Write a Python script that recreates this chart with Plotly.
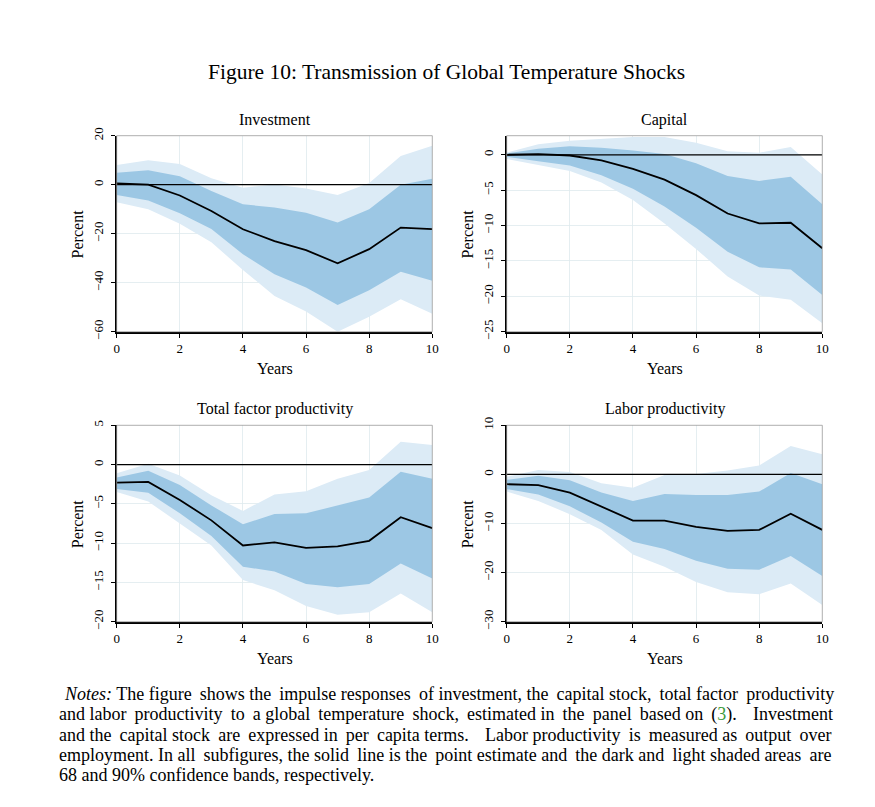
import plotly.graph_objects as go

# impulse horizon
years = [0, 1, 2, 3, 4, 5, 6, 7, 8, 9, 10]

# Investment
inv_point = [0.5, 0, -4.4, -10.7, -18.2, -23.0, -26.7, -32.1, -26.3, -17.5, -18.1]
inv_hi68 = [4.9, 5.9, 3.4, -2.6, -8.0, -9.3, -11.4, -15.4, -10.0, 0.0, 2.4]
inv_lo68 = [-4.2, -6.4, -11.7, -18.1, -28.4, -36.6, -42.0, -49.1, -43.1, -35.5, -39.2]
inv_hi90 = [8.0, 10.0, 8.4, 2.6, -1.2, 0.1, -1.5, -4.2, 0.7, 11.7, 15.9]
inv_lo90 = [-7.2, -10.0, -15.9, -23.5, -34.8, -45.4, -51.8, -60.0, -53.9, -46.8, -52.7]

# Capital
cap_point = [0, 0.1, -0.1, -0.8, -2.0, -3.5, -5.7, -8.3, -9.7, -9.6, -13.2]
cap_hi68 = [0.2, 0.85, 1.2, 1.0, 0.6, 0.1, -1.2, -3.0, -3.7, -3.1, -7.0]
cap_lo68 = [-0.3, -0.9, -1.5, -2.9, -4.8, -7.3, -10.3, -13.7, -15.9, -16.2, -19.8]
cap_hi90 = [0.3, 1.5, 2.0, 2.3, 2.5, 2.5, 1.7, 0.5, 0.3, 1.1, -2.8]
cap_lo90 = [-0.6, -1.4, -2.3, -3.9, -6.4, -9.7, -13.3, -17.2, -19.9, -20.5, -23.8]

# Total factor productivity
tfp_point = [-2.3, -2.2, -4.5, -7.1, -10.3, -9.9, -10.6, -10.4, -9.7, -6.7, -8.1]
tfp_hi68 = [-1.65, -0.8, -2.6, -5.2, -7.6, -6.3, -6.2, -5.2, -4.2, -0.9, -1.8]
tfp_lo68 = [-3.1, -3.6, -6.2, -9.1, -13.0, -13.6, -15.2, -15.6, -15.2, -12.6, -14.5]
tfp_hi90 = [-1.1, 0.1, -1.4, -3.9, -5.9, -3.8, -3.4, -1.8, -0.7, 2.9, 2.5]
tfp_lo90 = [-3.5, -4.7, -7.5, -10.3, -14.7, -16.0, -18.0, -19.1, -18.8, -16.4, -18.8]

# Labor productivity
lp_point = [-2.0, -2.2, -3.7, -6.6, -9.4, -9.4, -10.7, -11.5, -11.3, -8.0, -11.3]
lp_hi68 = [-1.1, -0.3, -1.2, -3.7, -5.4, -4.0, -4.2, -4.2, -3.5, 0.3, -2.0]
lp_lo68 = [-3.0, -4.1, -6.5, -9.8, -13.7, -15.2, -17.6, -19.2, -19.4, -16.6, -20.7]
lp_hi90 = [-0.5, 0.9, 0.5, -1.8, -2.7, -0.1, 0.1, 0.8, 1.8, 5.8, 4.1]
lp_lo90 = [-3.5, -5.4, -8.1, -11.3, -16.3, -18.8, -21.9, -24.0, -24.4, -22.2, -26.6]

panel_titles = ["Investment", "Capital", "Total factor productivity", "Labor productivity"]
y_ranges = [[-60, 20], [-25, 2.7], [-20, 5], [-30, 10]]
y_ticks = [[-60, -40, -20, 0, 20], [-25, -20, -15, -10, -5, 0],
           [-20, -15, -10, -5, 0, 5], [-30, -20, -10, 0, 10]]
x_ticks = [0, 2, 4, 6, 8, 10]

series = [
    (inv_point, inv_lo68, inv_hi68, inv_lo90, inv_hi90),
    (cap_point, cap_lo68, cap_hi68, cap_lo90, cap_hi90),
    (tfp_point, tfp_lo68, tfp_hi68, tfp_lo90, tfp_hi90),
    (lp_point, lp_lo68, lp_hi68, lp_lo90, lp_hi90),
]

notes = [
    "<i>Notes:</i> The figure shows the impulse responses of investment, the capital stock, total factor productivity",
    "and labor productivity to a global temperature shock, estimated in the panel based on ({3}).  Investment",
    "and the capital stock are expressed in per capita terms.  Labor productivity is measured as output over",
    "employment. In all subfigures, the solid line is the point estimate and the dark and light shaded areas are",
    "68 and 90% confidence bands, respectively.",
]

SERIF = "Liberation Serif"
LIGHT = "#dcebf6"
DARK = "#9cc7e4"

# the page body adds an 8px margin, so the figure is drawn 8px smaller and shifted
OFF = 8
W, H = 875 - OFF, 807 - OFF
# plot areas in page pixels: (left, right, top, bottom)
boxes = [
    (116.7, 432.3, 135.7, 331.7),
    (506.7, 822.3, 135.7, 331.7),
    (116.7, 432.3, 425.3, 621.7),
    (506.7, 822.3, 425.3, 621.7),
]


def px_note(text, x, y, size, angle=0, xanchor="center"):
    # text placed by page pixel position
    fig.add_annotation(x=(x - OFF) / W, y=1 - (y - OFF) / H, xref="paper", yref="paper",
                       text=text, showarrow=False, xanchor=xanchor, yanchor="middle",
                       textangle=angle, font=dict(family=SERIF, size=size, color="black"))


def justify(line, extra):
    # spread thin spaces over the gaps to imitate justified text
    parts = line.split(" ")
    gaps = len(parts) - 1
    out = parts[0]
    for k in range(1, len(parts)):
        add = int(k * extra / gaps) - int((k - 1) * extra / gaps)
        out += " " + "\u2009" * add + parts[k]
    return out


fig = go.Figure()

for i, (pt, lo68, hi68, lo90, hi90) in enumerate(series):
    n = "" if i == 0 else str(i + 1)
    xa, ya = "x" + n, "y" + n
    fig.add_trace(go.Scatter(x=years + years[::-1], y=hi90 + lo90[::-1], fill="toself",
                             fillcolor=LIGHT, line=dict(width=0), mode="lines",
                             xaxis=xa, yaxis=ya, hoverinfo="skip"))
    fig.add_trace(go.Scatter(x=years + years[::-1], y=hi68 + lo68[::-1], fill="toself",
                             fillcolor=DARK, line=dict(width=0), mode="lines",
                             xaxis=xa, yaxis=ya, hoverinfo="skip"))
    fig.add_trace(go.Scatter(x=years, y=[0] * len(years), mode="lines",
                             line=dict(color="black", width=1.3), xaxis=xa, yaxis=ya))
    fig.add_trace(go.Scatter(x=years, y=pt, mode="lines",
                             line=dict(color="black", width=1.8), xaxis=xa, yaxis=ya))

    l, r, t, b = boxes[i]
    axis_common = dict(showgrid=True, gridcolor="rgba(222,234,238,0.8)", gridwidth=1,
                       zeroline=False, showline=True, linecolor="black", linewidth=2,
                       ticks="outside", ticklen=4, tickcolor="black", automargin=False,
                       tickfont=dict(family=SERIF, size=13, color="black"),
                       layer="above traces")
    fig.layout["xaxis" + n] = dict(domain=[(l - OFF) / W, (r - OFF) / W], range=[0, 10],
                                   tickvals=x_ticks, anchor="y" + n, **axis_common)
    fig.layout["yaxis" + n] = dict(domain=[1 - (b - OFF) / H, 1 - (t - OFF) / H],
                                   range=y_ranges[i], tickvals=y_ticks[i], tickangle=-90,
                                   anchor="x" + n, ticklabelstandoff=3, **axis_common)
    # thin frame for top/right sides
    fig.add_shape(type="rect", xref="x" + n + " domain", yref="y" + n + " domain",
                  x0=0, x1=1, y0=0, y1=1, line=dict(color="#9a9a9a", width=0.8))

    cx = (l + r) / 2
    px_note(panel_titles[i], cx, t - 16, 16)
    px_note("Years", cx, b + 37, 16)
    px_note("Percent", l - 39, (t + b) / 2, 16, angle=-90)

px_note("Figure 10: Transmission of Global Temperature Shocks", 446, 72, 21.5)

note_y = [694, 714, 735, 755, 775]
note_extra = [6, 12, 11, 6, 0]
for j, line in enumerate(notes):
    txt = justify(line, note_extra[j]).replace("{3}", "<span style='color:#3a9a3a'>3</span>")
    px_note(txt, 62 if j == 0 else 57, note_y[j], 18, xanchor="left")

fig.update_layout(width=W, height=H, template="none",
                  margin=dict(l=0, r=0, t=0, b=0, pad=0, autoexpand=False),
                  paper_bgcolor="white", plot_bgcolor="white", showlegend=False)

fig.write_html("out.html")
